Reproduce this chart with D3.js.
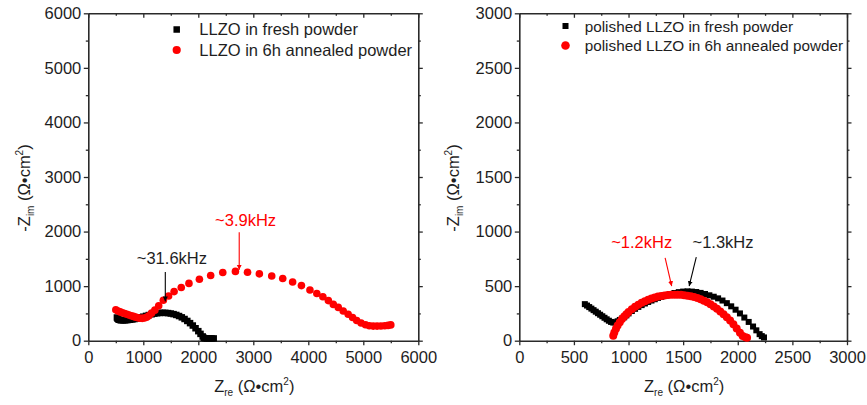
<!DOCTYPE html>
<html>
<head>
<meta charset="utf-8">
<script src="https://cdn.jsdelivr.net/npm/d3@7"></script>
<style>
  body { margin: 0; background: #fff; }
  svg { display: block; }
  text { font-family: "Liberation Sans", Arial, sans-serif; }
</style>
</head>
<body>
<svg id="chart" width="867" height="405"></svg>
<script>
// ---- Left panel: LLZO pellets, Nyquist data (Ω·cm²) ----
const freshX = [520, 530, 545, 560, 580, 600, 630, 660, 690, 720, 760, 800, 840, 880, 920, 960, 1000, 1050, 1100, 1150, 1200, 1250, 1300, 1350, 1400, 1450, 1500, 1550, 1600, 1650, 1700, 1750, 1800, 1850, 1900, 1950, 2000, 2040, 2080, 2100, 2130, 2160, 2200, 2240, 2280];
const freshY = [425, 405, 392, 384, 378, 375, 374, 375, 377, 380, 384, 390, 397, 406, 416, 428, 440, 455, 470, 484, 496, 504, 509, 511, 510, 506, 498, 487, 472, 452, 428, 398, 362, 322, 278, 228, 175, 125, 78, 52, 44, 42, 42, 42, 42];

const annealX = [500, 540, 580, 620, 660, 700, 740, 780, 820, 860, 900, 940, 980, 1020, 1060, 1100, 1150, 1210, 1280, 1364, 1460, 1560, 1690, 1830, 2020, 2225, 2445, 2675, 2895, 3110, 3335, 3535, 3715, 3875, 4030, 4155, 4265, 4365, 4455, 4545, 4635, 4725, 4805, 4880, 4960, 5040, 5110, 5180, 5250, 5320, 5390, 5450, 5500];
const annealY = [565, 545, 528, 512, 498, 484, 470, 457, 445, 432, 420, 412, 410, 415, 430, 455, 505, 560, 640, 740, 820, 900, 975, 1050, 1125, 1195, 1250, 1270, 1255, 1225, 1185, 1140, 1075, 1010, 930, 865, 805, 735, 665, 610, 545, 485, 425, 370, 325, 292, 275, 268, 268, 270, 275, 280, 290];

// ---- Right panel: polished LLZO pellets ----
const polFreshX = [600, 620, 640, 660, 680, 700, 720, 740, 760, 780, 800, 820, 840, 860, 880, 900, 920, 940, 960, 980, 1000, 1030, 1060, 1090, 1120, 1150, 1180, 1210, 1240, 1270, 1300, 1340, 1380, 1420, 1460, 1500, 1540, 1580, 1620, 1660, 1700, 1740, 1780, 1820, 1860, 1900, 1940, 1980, 2020, 2060, 2100, 2140, 2170, 2200, 2220, 2240];
const polFreshY = [335, 322, 308, 294, 280, 266, 252, 238, 224, 210, 196, 183, 172, 166, 168, 178, 190, 203, 214, 232, 250, 272, 292, 310, 326, 341, 355, 368, 380, 392, 402, 415, 427, 437, 445, 450, 452, 450, 446, 438, 428, 416, 403, 388, 368, 344, 315, 284, 250, 212, 172, 130, 95, 60, 42, 30];

const polAnnealX = [860, 870, 885, 900, 920, 940, 960, 980, 1000, 1030, 1060, 1090, 1120, 1150, 1180, 1210, 1240, 1270, 1300, 1330, 1360, 1390, 1420, 1450, 1480, 1510, 1540, 1570, 1600, 1630, 1660, 1690, 1720, 1750, 1780, 1810, 1840, 1870, 1900, 1930, 1960, 1990, 2020, 2045, 2070, 2085];
const polAnnealY = [45, 75, 110, 140, 170, 198, 222, 243, 262, 288, 310, 330, 347, 362, 375, 386, 396, 404, 410, 415, 418, 420, 421, 421, 420, 417, 413, 407, 400, 391, 380, 367, 352, 334, 314, 292, 268, 242, 214, 184, 150, 112, 72, 44, 32, 28];

// ---- Axis ticks and labels ----
const leftTicks = [0, 1000, 2000, 3000, 4000, 5000, 6000];
const rightTicks = [0, 500, 1000, 1500, 2000, 2500, 3000];

const leftLegend = ["LLZO in fresh powder", "LLZO in 6h annealed powder"];
const rightLegend = ["polished LLZO in fresh powder", "polished LLZO in 6h annealed powder"];

// frequency callouts: label anchor, arrow start, arrow tip (data units); series 0 = fresh, 1 = annealed
const leftNotes = [
  { text: "~31.6kHz", series: 0, at: [1520, 1400], from: [1400, 1260], to: [1400, 720] },
  { text: "~3.9kHz", series: 1, at: [2860, 2100], from: [2744, 1986], to: [2744, 1300] }
];
const rightNotes = [
  { text: "~1.2kHz", series: 1, at: [1120, 854], from: [1335, 760], to: [1395, 500] },
  { text: "~1.3kHz", series: 0, at: [1865, 854], from: [1620, 765], to: [1555, 500] }
];

const svg = d3.select("#chart");
const seriesColor = ["#000000", "#ff0000"];
const axisColor = "#2a2a2a";
const textColor = "#1e1e1e";
const fontSize = 16.5;

const defs = svg.append("defs");
seriesColor.forEach((c, i) => {
  defs.append("marker")
    .attr("id", "arrow" + i)
    .attr("viewBox", "0 0 10 10")
    .attr("refX", 10).attr("refY", 5)
    .attr("markerWidth", 5).attr("markerHeight", 7)
    .attr("markerUnits", "userSpaceOnUse")
    .attr("orient", "auto")
    .append("path")
    .attr("d", "M0,0 L10,5 L0,10 Z")
    .attr("fill", c);
});

function drawPanel(opt) {
  const x = d3.scaleLinear().domain(opt.domain).range([opt.left, opt.right]);
  const y = d3.scaleLinear().domain(opt.domain).range([opt.bottom, opt.top]);
  const g = svg.append("g");
  const minor = d3.range(opt.domain[0], opt.domain[1] + 1e-9, opt.minorStep)
    .filter(v => !opt.ticks.includes(v));

  const style = sel => {
    sel.select(".domain").attr("stroke", axisColor).attr("stroke-width", 1.6);
    sel.selectAll(".tick line").attr("stroke", axisColor).attr("stroke-width", 1.3);
    sel.selectAll(".tick text").attr("fill", textColor).style("font-size", fontSize + "px");
  };

  // minor ticks first so major ticks and frame draw over them
  g.append("g").attr("transform", `translate(0,${opt.bottom})`)
    .call(d3.axisBottom(x).tickValues(minor).tickSize(2.5).tickFormat("").tickSizeOuter(0)).call(style)
    .select(".domain").remove();
  g.append("g").attr("transform", `translate(${opt.left},0)`)
    .call(d3.axisLeft(y).tickValues(minor).tickSize(2.5).tickFormat("").tickSizeOuter(0)).call(style)
    .select(".domain").remove();
  g.append("g").attr("transform", `translate(0,${opt.top})`)
    .call(d3.axisBottom(x).tickValues(minor).tickSize(2.5).tickFormat("").tickSizeOuter(0)).call(style)
    .select(".domain").remove();
  g.append("g").attr("transform", `translate(${opt.right},0)`)
    .call(d3.axisLeft(y).tickValues(minor).tickSize(-2.5).tickFormat("").tickSizeOuter(0)).call(style)
    .select(".domain").remove();

  // mirrored frame (top / right) with inward ticks
  g.append("g").attr("transform", `translate(0,${opt.top})`)
    .call(d3.axisBottom(x).tickValues(opt.ticks).tickSize(4.5).tickFormat("").tickSizeOuter(0)).call(style);
  g.append("g").attr("transform", `translate(${opt.right},0)`)
    .call(d3.axisLeft(y).tickValues(opt.ticks).tickSize(-4.5).tickFormat("").tickSizeOuter(0)).call(style);

  // main axes with outward ticks
  g.append("g").attr("transform", `translate(0,${opt.bottom})`)
    .call(d3.axisBottom(x).tickValues(opt.ticks).tickSize(4.5).tickPadding(6).tickFormat(d3.format("d")).tickSizeOuter(0))
    .call(style);
  g.append("g").attr("transform", `translate(${opt.left},0)`)
    .call(d3.axisLeft(y).tickValues(opt.ticks).tickSize(4.5).tickPadding(2.5).tickFormat(d3.format("d")).tickSizeOuter(0))
    .call(style);

  // axis titles
  const ty = g.append("text")
    .attr("transform", `translate(${opt.yTitleX},${opt.yTitleY}) rotate(-90)`)
    .attr("text-anchor", "middle").attr("fill", textColor).style("font-size", fontSize + "px");
  ty.append("tspan").text("-Z");
  ty.append("tspan").text("im").attr("dy", 4).style("font-size", "10px");
  ty.append("tspan").text(" (Ω•cm").attr("dy", -4);
  ty.append("tspan").text("2").attr("dy", -7).style("font-size", "10px");
  ty.append("tspan").text(")").attr("dy", 7);

  const tx = g.append("text")
    .attr("x", (opt.left + opt.right) / 2 + 1).attr("y", opt.xTitleY)
    .attr("text-anchor", "middle").attr("fill", textColor).style("font-size", fontSize + "px");
  tx.append("tspan").text("Z");
  tx.append("tspan").text("re").attr("dy", 4).style("font-size", "10px");
  tx.append("tspan").text(" (Ω•cm").attr("dy", -4);
  tx.append("tspan").text("2").attr("dy", -7).style("font-size", "10px");
  tx.append("tspan").text(")").attr("dy", 7);

  // data: fresh (squares) under annealed (circles)
  const fresh = d3.zip(opt.freshX, opt.freshY);
  const anneal = d3.zip(opt.annealX, opt.annealY);
  const s = opt.square;
  g.append("g").selectAll("rect").data(fresh).join("rect")
    .attr("x", d => x(d[0]) - s / 2).attr("y", d => y(d[1]) - s / 2)
    .attr("width", s).attr("height", s).attr("fill", seriesColor[0]);
  g.append("g").selectAll("circle").data(anneal).join("circle")
    .attr("cx", d => x(d[0])).attr("cy", d => y(d[1]))
    .attr("r", opt.radius).attr("fill", seriesColor[1]);

  // frequency callouts
  opt.notes.forEach(n => {
    g.append("line")
      .attr("x1", x(n.from[0])).attr("y1", y(n.from[1]))
      .attr("x2", x(n.to[0])).attr("y2", y(n.to[1]))
      .attr("stroke", seriesColor[n.series]).attr("stroke-width", 1.1)
      .attr("marker-end", `url(#arrow${n.series})`);
    g.append("text")
      .attr("x", x(n.at[0])).attr("y", y(n.at[1]))
      .attr("text-anchor", "middle")
      .attr("fill", n.series === 1 ? seriesColor[1] : textColor)
      .style("font-size", fontSize + "px")
      .text(n.text);
  });

  // legend
  opt.legend.forEach((label, i) => {
    const ly = opt.legendY[i];
    if (i === 0) {
      g.append("rect").attr("x", opt.legendMarkX - s / 2).attr("y", ly - s / 2)
        .attr("width", s).attr("height", s).attr("fill", seriesColor[0]);
    } else {
      g.append("circle").attr("cx", opt.legendMarkX).attr("cy", ly)
        .attr("r", opt.radius + 0.3).attr("fill", seriesColor[1]);
    }
    g.append("text").attr("x", opt.legendTextX).attr("y", ly + opt.legendFont * 0.36)
      .attr("fill", textColor).style("font-size", opt.legendFont + "px").text(label);
  });
}

drawPanel({
  domain: [0, 6000], ticks: leftTicks, minorStep: 500,
  left: 88.3, right: 418.3, top: 13.3, bottom: 340.7,
  yTitleX: 30, yTitleY: 188, xTitleY: 392,
  freshX, freshY, annealX, annealY,
  square: 6.5, radius: 3.8,
  notes: leftNotes,
  legend: leftLegend, legendY: [29.5, 50], legendMarkX: 176.7, legendTextX: 199.3, legendFont: 16.5
});

drawPanel({
  domain: [0, 3000], ticks: rightTicks, minorStep: 250,
  left: 519.3, right: 847, top: 13.3, bottom: 340.7,
  yTitleX: 459, yTitleY: 188, xTitleY: 392,
  freshX: polFreshX, freshY: polFreshY, annealX: polAnnealX, annealY: polAnnealY,
  square: 6, radius: 4,
  notes: rightNotes,
  legend: rightLegend, legendY: [26, 45.5], legendMarkX: 565.5, legendTextX: 584.7, legendFont: 15.3
});
</script>
</body>
</html>
